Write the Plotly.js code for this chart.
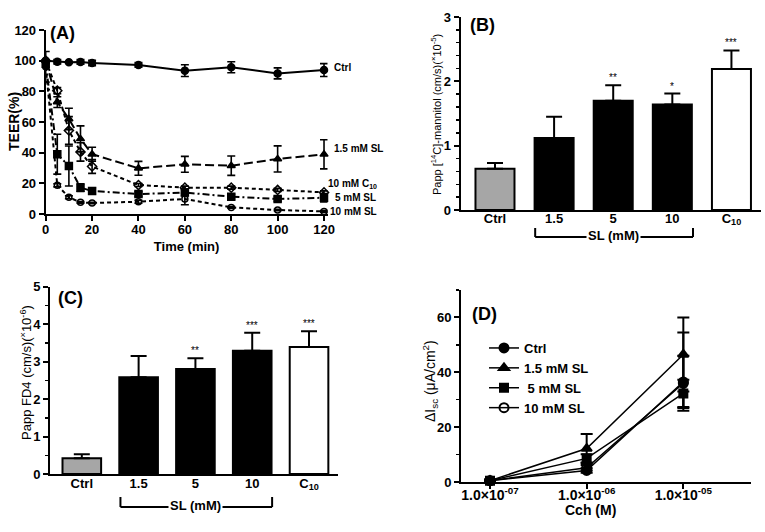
<!DOCTYPE html>
<html>
<head>
<meta charset="utf-8">
<script src="https://cdn.plot.ly/plotly-3.0.1.min.js"></script>
<style>html,body{margin:0;padding:0;background:#fff;}#chart{width:765px;height:532px;}</style>
</head>
<body>
<div id="chart"></div>
<script>
// ---------- Panel A: TEER over time ----------
const timeMin = [0, 5, 10, 15, 20, 40, 60, 80, 100, 120];
const teerCtrl = [100, 99.3, 99, 99.2, 98.5, 97.2, 93.5, 95.7, 91.7, 93.9];
const teerCtrlErr = [0.5, 1.5, 0.5, 1.5, 1.8, 1.5, 3.8, 3.6, 3.6, 4.2];
const teerSL15 = [100, 73, 62, 49, 39, 29.8, 32.4, 31.5, 35.9, 38.9];
const teerSL15Err = [0, 3.5, 7, 8.5, 4.5, 4.5, 5.2, 6.3, 8.5, 9.5];
const teerC10 = [100, 80.4, 54.5, 40.5, 31, 18.9, 17.2, 17.2, 15.7, 14.1];
const teerC10Err = [0, 2, 9, 6, 4.5, 1, 1, 1, 1, 1];
const teerSL5 = [98, 39, 31.3, 17.2, 15, 13, 14, 11.3, 9.8, 10.6];
const teerSL5Err = [0, 13, 13, 2.5, 2, 1.5, 2, 1.5, 1.5, 2.8];
const teerSL10 = [96, 18.7, 10.9, 7.6, 7.2, 8, 9.8, 4.3, 2.6, 1.7];
const teerSL10Err = [10, 1, 1, 0.5, 0.5, 1, 3.8, 0.5, 0.5, 0.5];
const teerLabels = ["Ctrl", "1.5 mM SL", "10 mM C<sub>10</sub>", "5 mM SL", "10 mM SL"];

// ---------- Panels B & C: permeability bars ----------
const permCats = ["Ctrl", "1.5", "5", "10", "C<sub>10</sub>"];
const barColors = ["#a6a6a6", "#000000", "#000000", "#000000", "#ffffff"];
const mannitolPapp = [0.64, 1.12, 1.70, 1.64, 2.19];
const mannitolErr = [0.09, 0.33, 0.24, 0.17, 0.29];
const mannitolSig = ["", "", "**", "*", "***"];
const fd4Papp = [0.42, 2.58, 2.80, 3.29, 3.39];
const fd4Err = [0.11, 0.57, 0.29, 0.48, 0.42];
const fd4Sig = ["", "", "**", "***", "***"];

// ---------- Panel D: Isc vs carbachol ----------
const cchConc = [1e-7, 1e-6, 1e-5];
const cchTicks = ["1.0×10<sup>-07</sup>", "1.0×10<sup>-06</sup>", "1.0×10<sup>-05</sup>"];
const iscCtrl = [0.5, 4.2, 36.5];
const iscCtrlErr = [0.3, 0.8, 9.5];
const iscSL15 = [0.5, 12.2, 46.5];
const iscSL15Err = [0.3, 5.3, 13.5];
const iscSL5 = [0.5, 8.6, 32.3];
const iscSL5Err = [0.3, 1.5, 5];
const iscSL10 = [0.5, 5.2, 36];
const iscSL10ErrUp = [0.3, 1, 18.5];
const iscSL10ErrDown = [0.3, 1, 10];

const FONT = "Liberation Sans, Arial, sans-serif";
const zeros = permCats.map(() => 0);

function errA(arr, w) {
  return {type: "data", array: arr, visible: true, color: "#000", thickness: 1.6, width: w || 4};
}
function lineTrace(y, err, dash, symbol, size, name) {
  return {
    x: timeMin, y: y, xaxis: "x", yaxis: "y", type: "scatter", mode: "lines+markers",
    name: name, showlegend: false, cliponaxis: false,
    line: {color: "#000", width: 2, dash: dash},
    marker: {symbol: symbol, size: size, color: "#000", line: {color: "#000", width: 1.5}},
    error_y: errA(err, 4)
  };
}

const traces = [
  lineTrace(teerSL10, teerSL10Err, "4px,3px", "circle-open", 6, teerLabels[4]),
  lineTrace(teerSL5, teerSL5Err, "7px,3px,2px,3px", "square", 7, teerLabels[3]),
  lineTrace(teerC10, teerC10Err, "4px,3px", "diamond-open", 7, teerLabels[2]),
  lineTrace(teerSL15, teerSL15Err, "9px,4px", "triangle-up", 7, teerLabels[1]),
  lineTrace(teerCtrl, teerCtrlErr, "solid", "circle", 7, teerLabels[0]),
  {
    x: permCats, y: mannitolPapp, type: "bar", xaxis: "x2", yaxis: "y2", width: 0.66,
    showlegend: false, cliponaxis: false,
    marker: {color: barColors, line: {color: "#000", width: 2}},
    error_y: {type: "data", symmetric: false, array: mannitolErr, arrayminus: zeros, color: "#000", thickness: 2, width: 8}
  },
  {
    x: permCats, y: fd4Papp, type: "bar", xaxis: "x3", yaxis: "y3", width: 0.68,
    showlegend: false, cliponaxis: false,
    marker: {color: barColors, line: {color: "#000", width: 2}},
    error_y: {type: "data", symmetric: false, array: fd4Err, arrayminus: zeros, color: "#000", thickness: 2, width: 8}
  }
];

function dTrace(y, errUp, errDown, symbol, size, name) {
  return {
    x: cchConc, y: y, xaxis: "x4", yaxis: "y4", type: "scatter", mode: "lines+markers",
    name: name, showlegend: true, cliponaxis: false,
    line: {color: "#000", width: 1.5},
    marker: {symbol: symbol, size: size, color: "#000", line: {color: "#000", width: 2}},
    error_y: {type: "data", symmetric: false, array: errUp, arrayminus: errDown, color: "#000", thickness: 2, width: 6}
  };
}
traces.push(dTrace(iscCtrl, iscCtrlErr, iscCtrlErr, "circle", 9, "Ctrl"));
traces.push(dTrace(iscSL15, iscSL15Err, iscSL15Err, "triangle-up", 9, "1.5 mM SL"));
traces.push(dTrace(iscSL5, iscSL5Err, iscSL5Err, "square", 8, " 5 mM SL"));
traces.push(dTrace(iscSL10, iscSL10ErrUp, iscSL10ErrDown, "circle-open", 9, "10 mM SL"));

const tickFont = {family: FONT, size: 13, color: "#000", weight: "bold"};
const baseAxis = {
  showline: true, linecolor: "#000", linewidth: 2, showgrid: false, zeroline: false,
  ticks: "outside", ticklen: 5, tickwidth: 2, tickcolor: "#000", tickfont: tickFont,
  automargin: false, fixedrange: true
};
function ax(extra) { return Object.assign({}, baseAxis, extra); }

const annotations = [];
function label(text, x, y, size, extra) {
  annotations.push(Object.assign({text: text, x: x, y: y, xref: "paper", yref: "paper", showarrow: false,
    xanchor: "left", yanchor: "middle", font: {family: FONT, size: size, color: "#000", weight: "bold"}}, extra || {}));
}
label("(A)", 48 / 765, 1 - 33 / 532, 18);
label("(B)", 468 / 765, 1 - 25 / 532, 18);
label("(C)", 56 / 765, 1 - 298 / 532, 18);
label("(D)", 470 / 765, 1 - 314 / 532, 18);
label("Cch (M)", 590 / 765, 1 - 510 / 532, 14, {xanchor: "center"});

// y-axis titles (rotated)
function yTitle(text, cx, cy, size, bold) {
  annotations.push({text: text, x: cx / 765, y: 1 - cy / 532, xref: "paper", yref: "paper", showarrow: false,
    textangle: -90, xanchor: "center", yanchor: "middle",
    font: {family: FONT, size: size, color: "#000", weight: bold ? "bold" : "normal"}});
}
yTitle("TEER(%)", 14, 122, 14, true);
yTitle("Papp [<sup>14</sup>C]-mannitol (cm/s)(<sup>×</sup>10<sup>-5</sup>)", 436, 115, 11, false);
yTitle("Papp FD4 (cm/s)(<sup>×</sup>10<sup>-6</sup>)", 26, 373, 13, false);
yTitle("ΔI<sub>sc</sub> (μA/cm<sup>2</sup>)", 430, 381, 14, false);

// right-hand labels of panel A, anchored to the last point of each series
const lastIdx = timeMin.length - 1;
const teerLast = [teerCtrl[lastIdx], teerSL15[lastIdx], teerC10[lastIdx], teerSL5[lastIdx], teerSL10[lastIdx]];
const labelShiftX = [8, 8, 2, 9, 4];
const labelShiftY = [3, 6, 8, 0, 0];
teerLabels.forEach((t, i) => {
  annotations.push({text: t, x: timeMin[lastIdx], y: teerLast[i], xref: "x", yref: "y", showarrow: false,
    xanchor: "left", yanchor: "middle", xshift: labelShiftX[i], yshift: labelShiftY[i],
    font: {family: FONT, size: 10, color: "#000", weight: "bold"}});
});

// significance stars (category axes: x given as category index)
function stars(sig, vals, errs, xr, yr) {
  sig.forEach((s, i) => {
    if (!s) return;
    annotations.push({text: s, x: i, y: vals[i] + errs[i], xref: xr, yref: yr, showarrow: false,
      xanchor: "center", yanchor: "bottom", yshift: 0, font: {family: FONT, size: 10, color: "#000"}});
  });
}
stars(mannitolSig, mannitolPapp, mannitolErr, "x2", "y2");
stars(fd4Sig, fd4Papp, fd4Err, "x3", "y3");

// SL (mM) brackets
const shapes = [];
function bracket(xr, yTop, yBot) {
  const lineStyle = {color: "#000", width: 2};
  shapes.push({type: "line", xref: xr, yref: "paper", x0: 0.68, x1: 0.68, y0: yTop, y1: yBot, line: lineStyle});
  shapes.push({type: "line", xref: xr, yref: "paper", x0: 3.35, x1: 3.35, y0: yTop, y1: yBot, line: lineStyle});
  shapes.push({type: "line", xref: xr, yref: "paper", x0: 0.68, x1: 3.35, y0: yBot, y1: yBot, line: lineStyle});
  annotations.push({text: "SL (mM)", x: 2, y: yBot, xref: xr, yref: "paper", showarrow: false,
    xanchor: "center", yanchor: "middle", bgcolor: "#fff", borderpad: 1, yshift: 2,
    font: {family: FONT, size: 13, color: "#000", weight: "bold"}});
}
bracket("x2", 1 - 228 / 532, 1 - 237 / 532);
bracket("x3", 1 - 497 / 532, 1 - 507 / 532);

const layout = {
  width: 765, height: 532,
  margin: {l: 0, r: 0, t: 0, b: 0},
  paper_bgcolor: "#fff", plot_bgcolor: "#fff",
  font: {family: FONT, color: "#000"},
  hovermode: false,
  bargap: 0.3,
  xaxis: ax({domain: [45.7 / 765, 327.5 / 765], range: [0, 121.5], anchor: "y", tickvals: [0, 20, 40, 60, 80, 100, 120],
    ticklabelstandoff: -3,
    title: {text: "Time (min)", font: {family: FONT, size: 13, weight: "bold", color: "#000"}, standoff: 6}}),
  yaxis: ax({domain: [1 - 214 / 532, 1 - 30 / 532], range: [0, 120], anchor: "x", tickvals: [0, 20, 40, 60, 80, 100, 120]}),
  xaxis2: ax({domain: [460.7 / 765, 761 / 765], range: [-0.58, 4.5], anchor: "y2", type: "category", ticks: "", ticklabelstandoff: -5}),
  yaxis2: ax({domain: [1 - 210 / 532, 1 - 17 / 532], range: [0, 3], anchor: "x2", dtick: 1,
    minor: {dtick: 0.2, ticks: "outside", ticklen: 3, tickwidth: 1.5, tickcolor: "#000"}}),
  xaxis3: ax({domain: [50 / 765, 338 / 765], range: [-0.56, 4.51], anchor: "y3", type: "category", ticks: "", ticklabelstandoff: -4}),
  yaxis3: ax({domain: [1 - 474 / 532, 1 - 286.7 / 532], range: [0, 5], anchor: "x3", dtick: 1,
    minor: {dtick: 0.5, ticks: "outside", ticklen: 3, tickwidth: 1.5, tickcolor: "#000"}}),
  xaxis4: ax({domain: [461 / 765, 751 / 765], type: "log", range: [-7.3, -4.3], anchor: "y4", ticklabelstandoff: -6,
    tickvals: cchConc, ticktext: cchTicks, tickfont: {family: FONT, size: 14, color: "#000", weight: "bold"}}),
  yaxis4: ax({domain: [1 - 482 / 532, 1 - 290 / 532], range: [0, 70], anchor: "x4", tickvals: [0, 20, 40, 60],
    minor: {dtick: 10, ticks: "outside", ticklen: 3, tickwidth: 1.5, tickcolor: "#000"}}),
  legend: {x: 484 / 765, y: 1 - 333 / 532, xanchor: "left", yanchor: "top", bgcolor: "rgba(0,0,0,0)",
    font: {family: FONT, size: 13, color: "#000", weight: "bold"}, itemwidth: 30, tracegroupgap: 0},
  annotations: annotations,
  shapes: shapes
};

Plotly.newPlot("chart", traces, layout, {staticPlot: true, displayModeBar: false});
</script>
</body>
</html>
